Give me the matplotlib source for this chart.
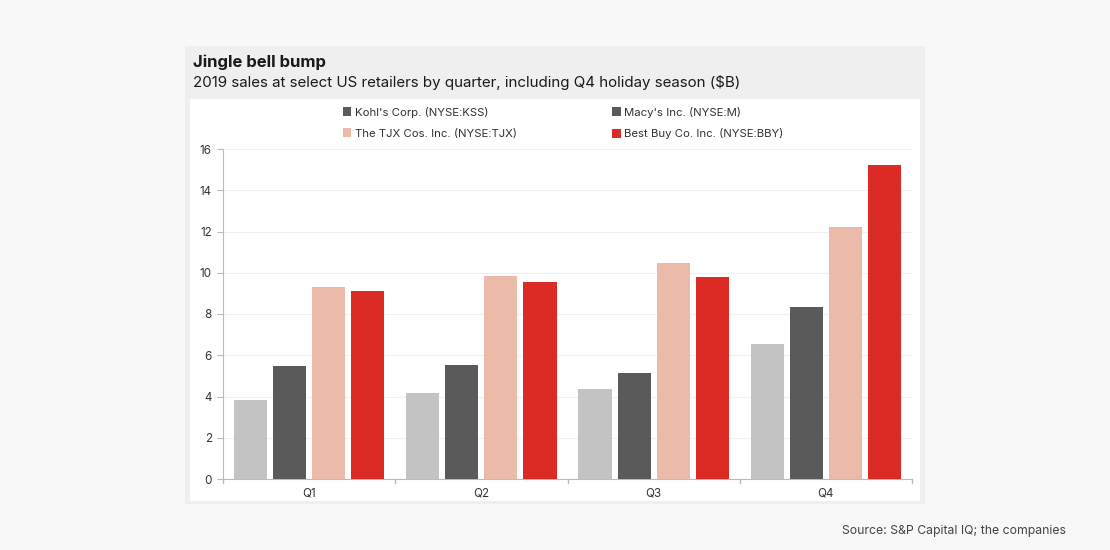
import matplotlib
matplotlib.use("Agg")
import matplotlib.pyplot as plt
from matplotlib.patches import Rectangle, Patch
import numpy as np

plt.rcParams['font.family'] = ['Inter', 'DejaVu Sans']

quarters = ["Q1", "Q2", "Q3", "Q4"]
series_names = ["Kohl's Corp. (NYSE:KSS)", "Macy's Inc. (NYSE:M)",
                "The TJX Cos. Inc. (NYSE:TJX)", "Best Buy Co. Inc. (NYSE:BBY)"]
kohls = [3.83, 4.17, 4.36, 6.55]
macys = [5.49, 5.53, 5.14, 8.36]
tjx = [9.31, 9.84, 10.47, 12.20]
bestbuy = [9.12, 9.55, 9.79, 15.21]
yticks = [0, 2, 4, 6, 8, 10, 12, 14, 16]

colors = ["#c3c3c3", "#5a5a5a", "#ebbaa8", "#dc2b24"]
legend_colors = ["#5a5a5a", "#5a5a5a", "#ebbaa8", "#dc2b24"]

W, H = 1110, 550
fig = plt.figure(figsize=(W / 100, H / 100), dpi=100)
fig.patch.set_facecolor("#f8f8f8")

def px_rect(x0, y0, x1, y1, color):
    fig.patches.append(Rectangle((x0 / W, 1 - y1 / H), (x1 - x0) / W, (y1 - y0) / H,
                                 transform=fig.transFigure, facecolor=color,
                                 edgecolor="none", zorder=-5))

px_rect(185, 46, 925, 504, "#efefef")
px_rect(190, 99, 920, 501, "#ffffff")

fig.text(193 / W, 1 - 62 / H, "Jingle bell bump", fontsize=12, fontweight="bold",
         color="#1a1a1a", va="center", ha="left")
fig.text(193 / W, 1 - 82 / H,
         "2019 sales at select US retailers by quarter, including Q4 holiday season ($B)",
         fontsize=10.9, color="#1a1a1a", va="center", ha="left")
fig.text(1066 / W, 1 - 531 / H, "Source: S&P Capital IQ; the companies",
         fontsize=8.8, color="#444444", va="center", ha="right")

ax = fig.add_axes([223 / W, 1 - 479 / H, (912 - 223) / W, (479 - 149) / H])
ax.set_zorder(2)
ax.set_facecolor("white")
x = np.arange(len(quarters))
data = [kohls, macys, tjx, bestbuy]
step = 0.227
bw = 0.192
for i, (vals, c) in enumerate(zip(data, colors)):
    ax.bar(x + (i - 1.5) * step, vals, width=bw, color=c, zorder=3)

ax.set_xlim(-0.5, 3.5)
ax.set_ylim(0, 16)
ax.set_yticks(yticks)
ax.set_yticklabels([str(v) for v in yticks], fontsize=8.4, color="#333333")
ax.set_xticks(x)
ax.set_xticklabels(quarters, fontsize=8.4, color="#333333")
ax.tick_params(axis="x", length=0, pad=6)
ax.tick_params(axis="y", length=4, color="#bbbbbb", pad=4)
for v in np.arange(-0.5, 3.6, 1.0):
    ax.plot([v, v], [0, -0.18], color="#bbbbbb", lw=1, clip_on=False, zorder=4)
ax.grid(axis="y", color="#f0f0f0", lw=0.8, zorder=0)
for s in ["top", "right"]:
    ax.spines[s].set_visible(False)
ax.spines["left"].set_color("#bbbbbb")
ax.spines["bottom"].set_color("#bbbbbb")

handles = [Patch(facecolor=c, edgecolor="none") for c in legend_colors]
order = [0, 2, 1, 3]
leg = fig.legend([handles[i] for i in order], [series_names[i] for i in order],
                 ncol=2, loc="center left", bbox_to_anchor=(337 / W, 1 - 123 / H),
                 frameon=False, fontsize=8.2, handlelength=0.75, handleheight=0.75,
                 handletextpad=0.3, columnspacing=8.4, labelspacing=0.95,
                 borderpad=0, labelcolor="#333333")
leg.set_zorder(3)

fig.savefig("out.png", dpi=100, facecolor=fig.get_facecolor())
